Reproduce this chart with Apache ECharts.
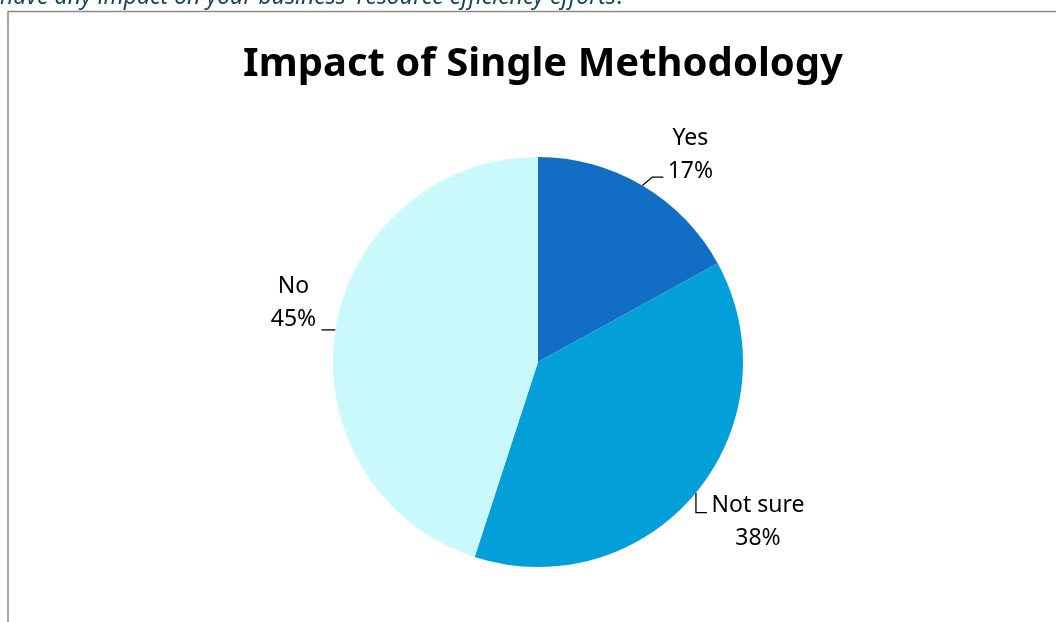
<!DOCTYPE html>
<html>
<head>
<meta charset="utf-8">
<script src="https://cdn.jsdelivr.net/npm/echarts@6/dist/echarts.min.js"></script>
<style>
html,body{margin:0;padding:0;background:#fff;}
#chart{width:1056px;height:622px;}
</style>
</head>
<body>
<div id="chart"></div>
<script>
const categories = ['Yes', 'Not sure', 'No'];
const values = [17, 38, 45];
const sliceColors = ['#116ec4', '#029fd8', '#c9f9fb'];
const chartTitle = 'Impact of Single Methodology';
const questionTail = "have any impact on your business' resource efficiency efforts?";

// label offsets (relative to the slice's edge anchor point), styling only
const labelOffsets = [
  { dx: 48, dy: -31, line: [[10, -8.5], [21, -8.5]] },
  { dx: 62, dy: 29, line: [[0, 20], [11, 20]] },
  { dx: -42, dy: -27, line: [[-14, 0]] }
];

const chart = echarts.init(document.getElementById('chart'), null, { renderer: 'canvas' });

const option = {
  backgroundColor: '#ffffff',
  animation: false,
  title: {
    text: chartTitle,
    left: 538,
    textAlign: 'center',
    top: 40,
    textStyle: { fontFamily: 'Noto Sans', fontWeight: 'bold', fontSize: 40, color: '#000' }
  },
  graphic: [
    {
      type: 'rect',
      shape: { x: 8, y: 11.5, width: 1200, height: 800 },
      style: { fill: 'none', stroke: '#8a8a8a', lineWidth: 1.5 },
      silent: true
    },
    {
      type: 'text',
      x: 0,
      y: -3,
      style: {
        text: questionTail,
        fontFamily: 'Noto Sans',
        fontStyle: 'italic',
        fontSize: 23,
        fill: '#17465a',
        verticalAlign: 'middle',
        align: 'left'
      },
      silent: true
    }
  ],
  series: [{
    type: 'pie',
    center: [538, 362],
    radius: 205,
    startAngle: 90,
    clockwise: true,
    data: categories.map((c, i) => ({ name: c, value: values[i], itemStyle: { color: sliceColors[i] } })),
    itemStyle: { borderWidth: 0 },
    label: {
      show: true,
      position: 'outside',
      formatter: '{b}\n{d}%',
      fontFamily: 'Noto Sans',
      fontSize: 23,
      lineHeight: 33,
      color: '#000',
      align: 'center'
    },
    labelLine: {
      show: true,
      length: 10,
      length2: 10,
      smooth: false,
      lineStyle: { color: '#000', width: 1.3 }
    },
    labelLayout: function (params) {
      const o = labelOffsets[params.dataIndex];
      const pts = params.labelLinePoints;
      if (!pts || !o) return {};
      const a = pts[0];
      const linePts = [[a[0], a[1]]].concat(o.line.map(p => [a[0] + p[0], a[1] + p[1]]));
      return {
        x: a[0] + o.dx,
        y: a[1] + o.dy,
        align: 'center',
        verticalAlign: 'middle',
        labelLinePoints: linePts
      };
    }
  }]
};
chart.setOption(option);
</script>
</body>
</html>
